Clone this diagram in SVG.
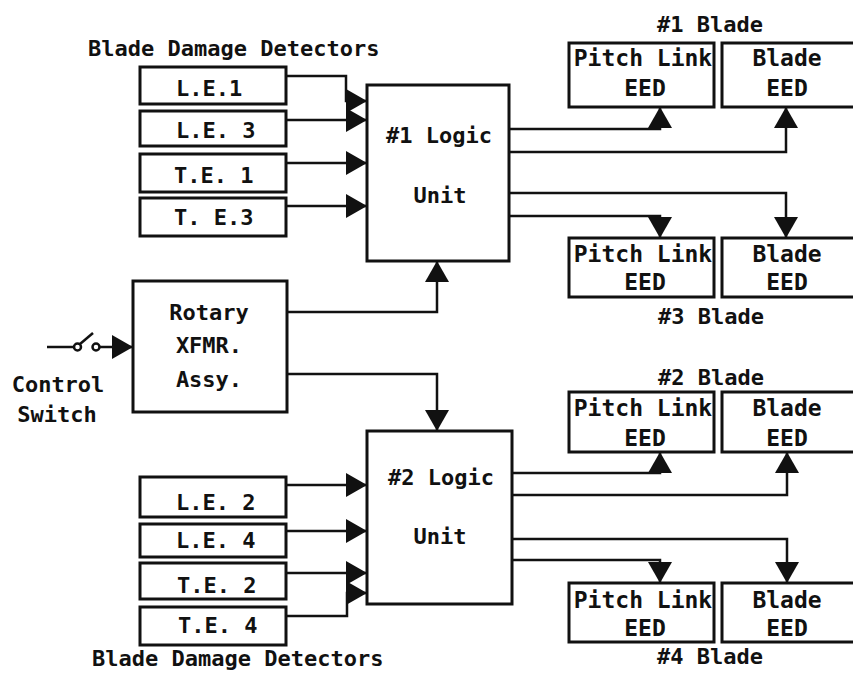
<svg xmlns="http://www.w3.org/2000/svg" width="853" height="673" viewBox="0 0 853 673">
<style>
.box{fill:none;stroke:#111;stroke-width:3}
.ln{fill:none;stroke:#111;stroke-width:2.5}
text{font-family:"DejaVu Sans Mono","Liberation Mono",monospace;font-weight:bold;font-size:22px;fill:#111}
.m{text-anchor:middle}
.e{font-size:23px;text-anchor:middle}
</style>
<defs>
<marker id="ah" markerWidth="22" markerHeight="24" refX="21" refY="12" orient="auto" markerUnits="userSpaceOnUse">
<path d="M0,0 L21,12 L0,24 Z" fill="#111"/>
</marker>
</defs>
<rect width="853" height="673" fill="#fff"/>

<text x="88" y="56">Blade Damage Detectors</text>
<text x="92" y="666">Blade Damage Detectors</text>
<text class="m" x="710" y="32">#1 Blade</text>
<text class="m" x="711" y="324">#3 Blade</text>
<text class="m" x="711" y="385">#2 Blade</text>
<text class="m" x="710" y="664">#4 Blade</text>

<g id="le1"><rect class="box" x="140" y="67" width="146" height="37"/><text x="176" y="96">L.E.1</text></g>
<g id="le3"><rect class="box" x="140" y="111" width="146" height="35"/><text x="176" y="138">L.E. 3</text></g>
<g id="te1"><rect class="box" x="140" y="154" width="146" height="38"/><text x="174" y="183">T.E. 1</text></g>
<g id="te3"><rect class="box" x="140" y="198" width="146" height="38"/><text x="174" y="225">T. E.3</text></g>

<g id="le2"><rect class="box" x="140" y="477" width="146" height="40"/><text x="176" y="510">L.E. 2</text></g>
<g id="le4"><rect class="box" x="140" y="524" width="146" height="33"/><text x="176" y="548">L.E. 4</text></g>
<g id="te2"><rect class="box" x="140" y="563" width="146" height="36"/><text x="177" y="593">T.E. 2</text></g>
<g id="te4"><rect class="box" x="140" y="607" width="146" height="38"/><text x="178" y="633">T.E. 4</text></g>

<g id="logic1"><rect class="box" x="367" y="85" width="142" height="176"/><text class="m" x="439" y="143">#1 Logic</text><text class="m" x="440" y="203">Unit</text></g>
<g id="logic2"><rect class="box" x="367" y="431" width="145" height="173"/><text class="m" x="441" y="485">#2 Logic</text><text class="m" x="440" y="544">Unit</text></g>

<g id="rotary"><rect class="box" x="133" y="281" width="154" height="131"/><text class="m" x="209" y="320">Rotary</text><text class="m" x="209" y="353">XFMR.</text><text class="m" x="209" y="387">Assy.</text></g>

<g id="switch">
<line class="ln" x1="47" y1="347" x2="74" y2="347"/>
<circle cx="77.5" cy="347" r="3.5" fill="#fff" stroke="#111" stroke-width="2.5"/>
<line class="ln" x1="80" y1="344" x2="93" y2="333"/>
<circle cx="96" cy="347" r="3.5" fill="#fff" stroke="#111" stroke-width="2.5"/>
<text class="m" x="58" y="392">Control</text>
<text class="m" x="57" y="422">Switch</text>
</g>

<g id="pl1"><rect class="box" x="569" y="43" width="145" height="64"/><text class="e" x="643" y="66">Pitch Link</text><text class="e" x="645" y="96">EED</text></g>
<g id="bl1"><rect class="box" x="722" y="43" width="150" height="64"/><text class="e" x="787" y="66">Blade</text><text class="e" x="787" y="96">EED</text></g>
<g id="pl3"><rect class="box" x="569" y="238" width="145" height="59"/><text class="e" x="643" y="262">Pitch Link</text><text class="e" x="645" y="290">EED</text></g>
<g id="bl3"><rect class="box" x="722" y="238" width="150" height="59"/><text class="e" x="787" y="262">Blade</text><text class="e" x="787" y="290">EED</text></g>
<g id="pl2"><rect class="box" x="569" y="392" width="145" height="60"/><text class="e" x="643" y="416">Pitch Link</text><text class="e" x="645" y="446">EED</text></g>
<g id="bl2"><rect class="box" x="722" y="392" width="150" height="60"/><text class="e" x="787" y="416">Blade</text><text class="e" x="787" y="446">EED</text></g>
<g id="pl4"><rect class="box" x="569" y="583" width="145" height="59"/><text class="e" x="643" y="608">Pitch Link</text><text class="e" x="645" y="636">EED</text></g>
<g id="bl4"><rect class="box" x="722" y="583" width="150" height="59"/><text class="e" x="787" y="608">Blade</text><text class="e" x="787" y="636">EED</text></g>

<g id="connectors" marker-end="url(#ah)">
<path class="ln" d="M286,76 H346 V101 H367"/>
<path class="ln" d="M286,120 H367"/>
<path class="ln" d="M286,163 H367"/>
<path class="ln" d="M286,206 H367"/>
<path class="ln" d="M286,485 H367"/>
<path class="ln" d="M286,531 H367"/>
<path class="ln" d="M286,573 H367"/>
<path class="ln" d="M286,616 H347 V593 H367"/>
<path class="ln" d="M99,347 H133"/>
<path class="ln" d="M287,312 H437 V261"/>
<path class="ln" d="M287,374 H437 V431"/>
<path class="ln" d="M509,129 H660 V107"/>
<path class="ln" d="M509,152 H786 V107"/>
<path class="ln" d="M509,193 H786 V238"/>
<path class="ln" d="M509,216 H660 V238"/>
<path class="ln" d="M512,473 H660 V452"/>
<path class="ln" d="M512,495 H787 V452"/>
<path class="ln" d="M512,539 H787 V583"/>
<path class="ln" d="M512,560 H660 V583"/>
</g>
</svg>
